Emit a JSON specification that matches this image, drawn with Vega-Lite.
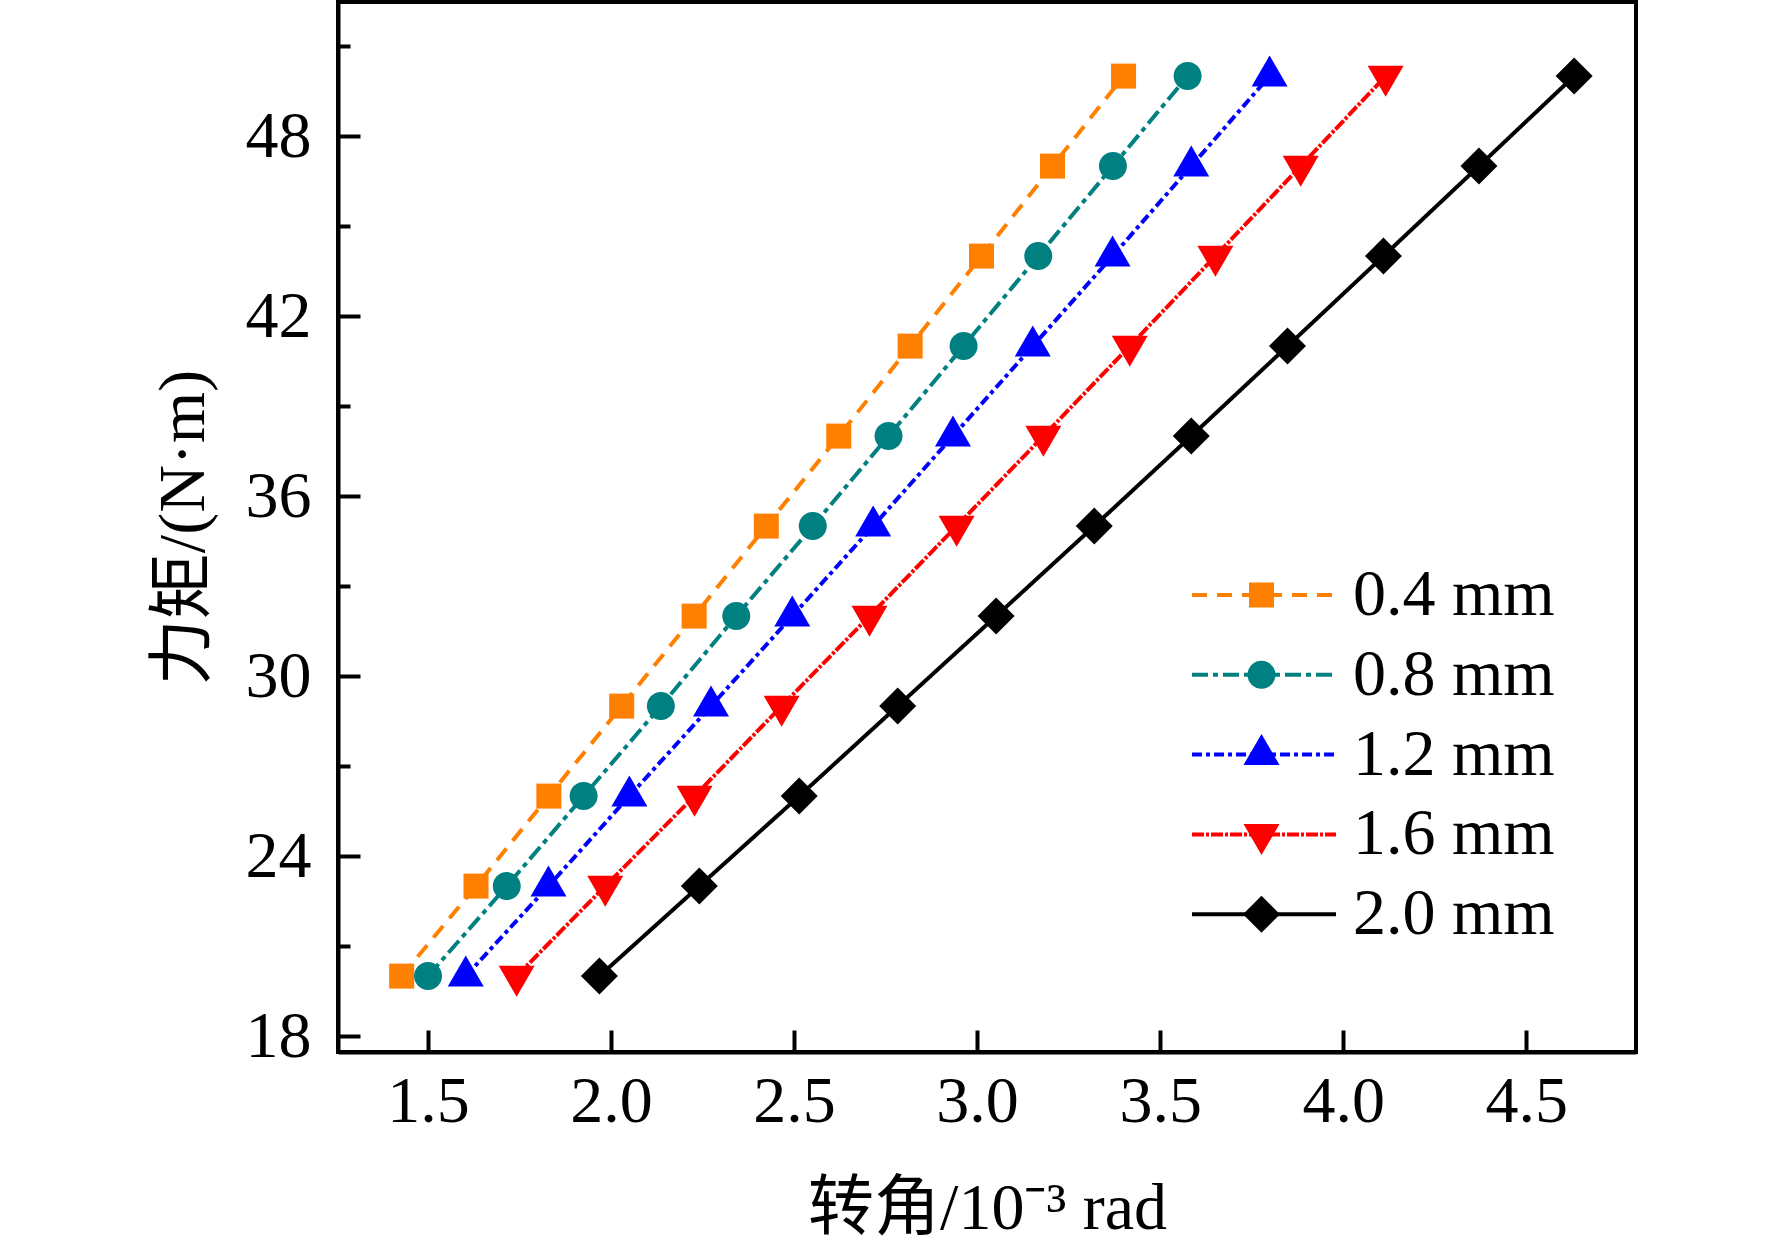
{
  "$schema": "https://vega.github.io/schema/vega-lite/v6.json",
  "width": 1298,
  "height": 1050,
  "autosize": {"type": "none"},
  "padding": {"left": 338, "top": 2, "right": 136, "bottom": 196},
  "background": "white",
  "config": {
    "view": {"stroke": "black", "strokeWidth": 4},
    "axis": {
      "grid": false,
      "domainColor": "black",
      "domainWidth": 4,
      "tickColor": "black",
      "tickWidth": 4,
      "labelFont": "Liberation Serif",
      "labelFontSize": 66,
      "labelColor": "black",
      "titleFont": "Liberation Serif, Noto Sans CJK SC",
      "titleFontSize": 66,
      "titleFontWeight": "normal",
      "titleColor": "black"
    }
  },
  "data": {
    "values": [
      {"series": "0.4 mm", "torque": 20, "angle": 1.428},
      {"series": "0.4 mm", "torque": 23, "angle": 1.631},
      {"series": "0.4 mm", "torque": 26, "angle": 1.830},
      {"series": "0.4 mm", "torque": 29, "angle": 2.029},
      {"series": "0.4 mm", "torque": 32, "angle": 2.227},
      {"series": "0.4 mm", "torque": 35, "angle": 2.424},
      {"series": "0.4 mm", "torque": 38, "angle": 2.622},
      {"series": "0.4 mm", "torque": 41, "angle": 2.817},
      {"series": "0.4 mm", "torque": 44, "angle": 3.012},
      {"series": "0.4 mm", "torque": 47, "angle": 3.206},
      {"series": "0.4 mm", "torque": 50, "angle": 3.400},
      {"series": "0.8 mm", "torque": 20, "angle": 1.500},
      {"series": "0.8 mm", "torque": 23, "angle": 1.715},
      {"series": "0.8 mm", "torque": 26, "angle": 1.925},
      {"series": "0.8 mm", "torque": 29, "angle": 2.136},
      {"series": "0.8 mm", "torque": 32, "angle": 2.342},
      {"series": "0.8 mm", "torque": 35, "angle": 2.551},
      {"series": "0.8 mm", "torque": 38, "angle": 2.758},
      {"series": "0.8 mm", "torque": 41, "angle": 2.963},
      {"series": "0.8 mm", "torque": 44, "angle": 3.167},
      {"series": "0.8 mm", "torque": 47, "angle": 3.371},
      {"series": "0.8 mm", "torque": 50, "angle": 3.575},
      {"series": "1.2 mm", "torque": 20, "angle": 1.603},
      {"series": "1.2 mm", "torque": 23, "angle": 1.829},
      {"series": "1.2 mm", "torque": 26, "angle": 2.050},
      {"series": "1.2 mm", "torque": 29, "angle": 2.273},
      {"series": "1.2 mm", "torque": 32, "angle": 2.495},
      {"series": "1.2 mm", "torque": 35, "angle": 2.716},
      {"series": "1.2 mm", "torque": 38, "angle": 2.934},
      {"series": "1.2 mm", "torque": 41, "angle": 3.152},
      {"series": "1.2 mm", "torque": 44, "angle": 3.370},
      {"series": "1.2 mm", "torque": 47, "angle": 3.585},
      {"series": "1.2 mm", "torque": 50, "angle": 3.799},
      {"series": "1.6 mm", "torque": 20, "angle": 1.742},
      {"series": "1.6 mm", "torque": 23, "angle": 1.984},
      {"series": "1.6 mm", "torque": 26, "angle": 2.228},
      {"series": "1.6 mm", "torque": 29, "angle": 2.466},
      {"series": "1.6 mm", "torque": 32, "angle": 2.706},
      {"series": "1.6 mm", "torque": 35, "angle": 2.944},
      {"series": "1.6 mm", "torque": 38, "angle": 3.181},
      {"series": "1.6 mm", "torque": 41, "angle": 3.417},
      {"series": "1.6 mm", "torque": 44, "angle": 3.651},
      {"series": "1.6 mm", "torque": 47, "angle": 3.884},
      {"series": "1.6 mm", "torque": 50, "angle": 4.116},
      {"series": "2.0 mm", "torque": 20, "angle": 1.968},
      {"series": "2.0 mm", "torque": 23, "angle": 2.241},
      {"series": "2.0 mm", "torque": 26, "angle": 2.514},
      {"series": "2.0 mm", "torque": 29, "angle": 2.783},
      {"series": "2.0 mm", "torque": 32, "angle": 3.052},
      {"series": "2.0 mm", "torque": 35, "angle": 3.320},
      {"series": "2.0 mm", "torque": 38, "angle": 3.585},
      {"series": "2.0 mm", "torque": 41, "angle": 3.848},
      {"series": "2.0 mm", "torque": 44, "angle": 4.110},
      {"series": "2.0 mm", "torque": 47, "angle": 4.371},
      {"series": "2.0 mm", "torque": 50, "angle": 4.631}
    ]
  },
  "layer": [
    {
      "mark": {"type": "line", "strokeWidth": 4},
      "encoding": {
        "x": {
          "field": "angle",
          "type": "quantitative",
          "scale": {"domain": [1.254, 4.8], "nice": false, "zero": false},
          "axis": {
            "values": [1.5, 2.0, 2.5, 3.0, 3.5, 4.0, 4.5],
            "format": ".1f",
            "tickSize": -22,
            "labelPadding": 39.5,
            "labelBaseline": "top",
            "title": "转角/10⁻³ rad",
            "titleX": 649,
            "titleY": 176,
            "titleBaseline": "alphabetic",
            "titleAlign": "center"
          }
        },
        "y": {
          "field": "torque",
          "type": "quantitative",
          "scale": {"domain": [17.47, 52.47], "nice": false, "zero": false},
          "axis": {
            "values": [18, 21, 24, 27, 30, 33, 36, 39, 42, 45, 48, 51],
            "labelExpr": "datum.value % 6 === 0 ? datum.label : ''",
            "tickSize": {"condition": {"test": "datum.value % 6 === 0", "value": -22}, "value": -12},
            "labelPadding": 49,
            "title": "力矩/(N·m)",
            "titleX": -135,
            "titleY": 525,
            "titleAngle": 270,
            "titleBaseline": "alphabetic",
            "titleAlign": "center"
          }
        },
        "color": {
          "field": "series",
          "type": "nominal",
          "scale": {
            "domain": ["0.4 mm", "0.8 mm", "1.2 mm", "1.6 mm", "2.0 mm"],
            "range": ["#FF7F00", "#008080", "#0000FF", "#FF0000", "#000000"]
          },
          "legend": {
            "title": null,
            "orient": "none",
            "legendX": 893,
            "legendY": 560,
            "padding": 0,
            "symbolType": "M-5,0L5,0",
            "symbolSize": 829,
            "symbolStrokeWidth": 4,
            "labelFont": "Liberation Serif",
            "labelFontSize": 66,
            "labelColor": "black",
            "labelLimit": 0,
            "labelOffset": 56,
            "rowPadding": 13.8,
            "encode": {"symbols": {"update": {"fill": {"value": "transparent"}}}}
          }
        },
        "strokeDash": {
          "field": "series",
          "type": "nominal",
          "scale": {
            "domain": ["0.4 mm", "0.8 mm", "1.2 mm", "1.6 mm", "2.0 mm"],
            "range": [[15, 10], [16, 5, 5, 5], [10, 4, 4, 4], [12, 2, 3, 2], [1, 0]]
          },
          "legend": {
            "title": null,
            "orient": "none",
            "legendX": 893,
            "legendY": 560,
            "padding": 0,
            "symbolType": "M-5,0L5,0",
            "symbolSize": 829,
            "symbolStrokeWidth": 4,
            "labelFont": "Liberation Serif",
            "labelFontSize": 66,
            "labelColor": "black",
            "labelLimit": 0,
            "labelOffset": 56,
            "rowPadding": 13.8
          }
        }
      }
    },
    {
      "mark": {"type": "point", "filled": true, "opacity": 1, "strokeWidth": 0, "size": 1369},
      "encoding": {
        "x": {"field": "angle", "type": "quantitative"},
        "y": {"field": "torque", "type": "quantitative"},
        "fill": {
          "field": "series",
          "type": "nominal",
          "scale": {"range": ["#FF7F00", "#008080", "#0000FF", "#FF0000", "#000000"]},
          "legend": {
            "title": null,
            "orient": "none",
            "legendX": 890.5,
            "legendY": 560,
            "padding": 0,
            "symbolSize": 1369,
            "symbolStrokeWidth": 0,
            "labelFont": "Liberation Serif",
            "labelFontSize": 66,
            "labelExpr": "''",
            "labelLimit": 0,
            "rowPadding": 13.8
          }
        },
        "shape": {
          "field": "series",
          "type": "nominal",
          "scale": {
            "range": [
              "M-0.676,-0.676H0.676V0.676H-0.676Z",
              "M-0.757,0A0.757,0.757,0,1,1,0.757,0A0.757,0.757,0,1,1,-0.757,0Z",
              "M0,-1.117L0.973,0.559L-0.973,0.559Z",
              "M0,1.117L0.973,-0.559L-0.973,-0.559Z",
              "M0,-1L1,0L0,1L-1,0Z"
            ]
          },
          "legend": {
            "title": null,
            "orient": "none",
            "legendX": 890.5,
            "legendY": 560,
            "padding": 0,
            "symbolSize": 1369,
            "symbolStrokeWidth": 0,
            "labelFont": "Liberation Serif",
            "labelFontSize": 66,
            "labelExpr": "''",
            "labelLimit": 0,
            "rowPadding": 13.8
          }
        }
      }
    }
  ]
}
